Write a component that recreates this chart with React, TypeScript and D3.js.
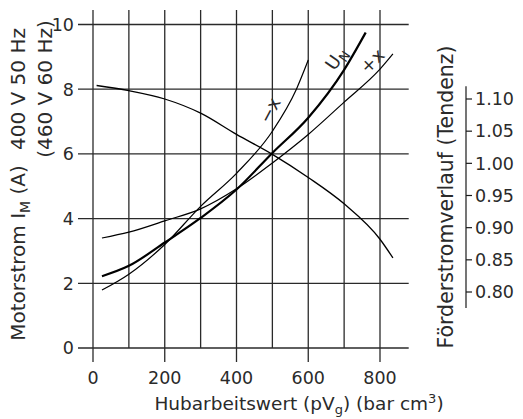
import React, { useEffect, useRef } from 'react';
import * as d3 from 'd3';

// Motorstrom (A) over Hubarbeitswert (bar cm3), three curves
const unPv = [25, 100, 200, 300, 400, 500, 600, 700, 760];
const unCurrent = [2.22, 2.54, 3.26, 4.02, 4.9, 6.03, 7.12, 8.6, 9.75];

const minusPv = [25, 100, 200, 300, 400, 500, 567, 600];
const minusCurrent = [1.79, 2.28, 3.2, 4.38, 5.4, 6.7, 8.0, 8.9];

const plusPv = [25, 100, 200, 300, 400, 500, 600, 700, 800, 836];
const plusCurrent = [3.4, 3.58, 3.93, 4.3, 4.92, 5.72, 6.6, 7.6, 8.62, 9.09];

// Förderstromverlauf (Tendenz), read on the right axis
const flowPv = [10, 100, 200, 300, 400, 500, 600, 700, 800, 836];
const flowTrend = [1.121, 1.113, 1.1, 1.078, 1.045, 1.014, 0.978, 0.937, 0.882, 0.853];

const xTicks = [0, 200, 400, 600, 800];
const xGrid = [0, 100, 200, 300, 400, 500, 600, 700, 800];
const yTicks = [0, 2, 4, 6, 8, 10];
const rightTicks = [0.8, 0.85, 0.9, 0.95, 1.0, 1.05, 1.1];

// curve labels: [text, subscript, pv, current, angle]
const curveLabels: [string, string, number, number, number][] = [
  ['\u2212x', '', 492, 7.35, -62],
  ['U', 'N', 677, 8.95, -55],
  ['+x', '', 778, 8.88, -45],
];

const FONT = "'DejaVu Sans', sans-serif";
const INK = '#1a1a1a';

const MotorChart = () => {
  const ref = useRef<SVGSVGElement | null>(null);

  useEffect(() => {
    const svg = d3.select(ref.current);
    svg.selectAll('*').remove();

    const x = d3.scaleLinear().domain([0, 800]).range([93, 380]);
    const y = d3.scaleLinear().domain([0, 10]).range([348, 24.5]);
    const yR = d3.scaleLinear().domain([0.8, 1.1]).range([292, 99]);

    // grid
    const grid = svg.append('g').attr('stroke', '#2a2a2a').attr('stroke-width', 1.3);
    grid.selectAll('.vg')
      .data(xGrid)
      .enter()
      .append('line')
      .attr('x1', d => x(d))
      .attr('x2', d => x(d))
      .attr('y1', 10)
      .attr('y2', d => (d % 200 === 0 ? 362 : y(0)));
    grid.selectAll('.hg')
      .data(yTicks)
      .enter()
      .append('line')
      .attr('x1', 78)
      .attr('x2', x(880))
      .attr('y1', d => y(d))
      .attr('y2', d => y(d));

    const text = svg.append('g')
      .attr('font-family', FONT)
      .attr('font-size', 17.5)
      .attr('fill', '#2a2a2a');

    // x tick labels
    text.selectAll('.xt')
      .data(xTicks)
      .enter()
      .append('text')
      .attr('x', d => x(d))
      .attr('y', 384)
      .attr('text-anchor', 'middle')
      .text(d => d);

    // y tick labels
    text.selectAll('.yt')
      .data(yTicks)
      .enter()
      .append('text')
      .attr('x', 74)
      .attr('y', d => y(d))
      .attr('dy', '0.36em')
      .attr('text-anchor', 'end')
      .text(d => d);

    // right axis
    const right = svg.append('g');
    right.append('line')
      .attr('x1', 466).attr('x2', 466)
      .attr('y1', yR(1.12)).attr('y2', yR(0.775))
      .attr('stroke', INK).attr('stroke-width', 1.2);
    right.selectAll('.rt')
      .data(rightTicks)
      .enter()
      .append('line')
      .attr('x1', 466).attr('x2', 472)
      .attr('y1', d => yR(d)).attr('y2', d => yR(d))
      .attr('stroke', INK).attr('stroke-width', 1.2);
    text.selectAll('.rl')
      .data(rightTicks)
      .enter()
      .append('text')
      .attr('x', 475)
      .attr('y', d => yR(d))
      .attr('dy', '0.36em')
      .text(d => d.toFixed(2));

    // curves
    const line = (xs: number[], ys: number[], scale: d3.ScaleLinear<number, number>) =>
      d3.line<number>()
        .x((_, i) => x(xs[i]))
        .y(d => scale(d))
        .curve(d3.curveMonotoneX)(ys);

    const curves = svg.append('g').attr('fill', 'none').attr('stroke', '#000');
    curves.append('path').attr('d', line(flowPv, flowTrend, yR)).attr('stroke-width', 1.3);
    curves.append('path').attr('d', line(minusPv, minusCurrent, y)).attr('stroke-width', 1.2);
    curves.append('path').attr('d', line(plusPv, plusCurrent, y)).attr('stroke-width', 1.2);
    curves.append('path').attr('d', line(unPv, unCurrent, y)).attr('stroke-width', 2.2);

    // curve labels
    curveLabels.forEach(([t, sub, px, cy, angle]) => {
      const lbl = text.append('text')
        .attr('transform', `translate(${x(px)},${y(cy)}) rotate(${angle})`)
        .attr('text-anchor', 'middle')
        .attr('font-size', 18)
        .attr('dy', '0.36em');
      lbl.append('tspan').text(t);
      if (sub) lbl.append('tspan').attr('font-size', 13).attr('dy', 4).text(sub);
    });

    // axis titles
    const xt = text.append('text')
      .attr('x', 299)
      .attr('y', 410)
      .attr('font-size', 18.5)
      .attr('text-anchor', 'middle');
    xt.append('tspan').text('Hubarbeitswert (pV');
    xt.append('tspan').attr('font-size', 13).attr('dy', 4).text('g');
    xt.append('tspan').attr('dy', -4).text(') (bar cm');
    xt.append('tspan').attr('font-size', 13).attr('dy', -7).text('3');
    xt.append('tspan').attr('dy', 7).text(')');

    const yt = text.append('text')
      .attr('transform', 'translate(25,253) rotate(-90)')
      .attr('font-size', 20)
      .attr('text-anchor', 'middle');
    yt.append('tspan').text('Motorstrom I');
    yt.append('tspan').attr('font-size', 14).attr('dy', 5).text('M');
    yt.append('tspan').attr('dy', -5).text(' (A)');

    text.append('text')
      .attr('transform', 'translate(25,89) rotate(-90)')
      .attr('font-size', 20)
      .attr('text-anchor', 'middle')
      .text('400 V 50 Hz');
    text.append('text')
      .attr('transform', 'translate(52,89) rotate(-90)')
      .attr('font-size', 20)
      .attr('text-anchor', 'middle')
      .text('(460 V 60 Hz)');

    text.append('text')
      .attr('transform', 'translate(453,197) rotate(-90)')
      .attr('font-size', 20.5)
      .attr('text-anchor', 'middle')
      .text('Förderstromverlauf (Tendenz)');
  }, []);

  return <svg ref={ref} width={523} height={419} style={{ display: 'block' }} />;
};

export default function App() {
  return (
    <div style={{ position: 'absolute', left: 0, top: 0, background: '#fff' }}>
      <MotorChart />
    </div>
  );
}
